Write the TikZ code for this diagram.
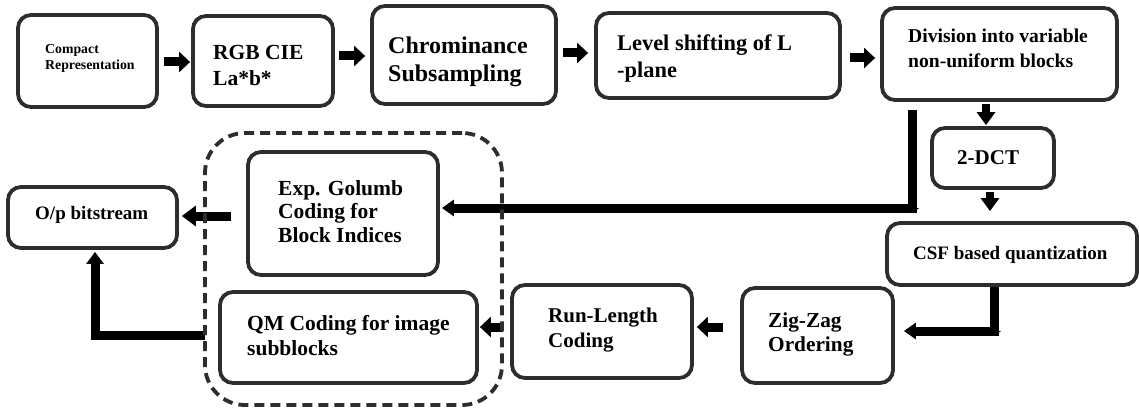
\documentclass[tikz,border=0pt]{standalone}
\usepackage{fontspec}
\setmainfont{Liberation Serif}
\usetikzlibrary{arrows.meta}
\definecolor{boxc}{RGB}{45,45,45}
\begin{document}
\begin{tikzpicture}[x=1pt,y=-1pt,
 box/.style={draw=boxc,line width=3.8pt,rounded corners=13pt,inner sep=0pt,fill=white},
 lab/.style={anchor=west,align=left,inner sep=0pt},
 fat/.style={line width=9pt,-{Triangle[width=20pt,length=11pt]}},
 dfat/.style={line width=8pt,-{Triangle[width=18pt,length=13pt]}},
 conn/.style={line width=9pt,-{Triangle[width=16pt,length=12pt]}},
 notch/.style={line width=9pt,-{Triangle[width=14pt,length=5pt]}},
 grp/.style={draw=boxc,line width=3.8pt,dash pattern=on 10pt off 6pt,rounded corners=40pt,inner sep=0pt}]
\useasboundingbox (0,0) rectangle (1139,409);
\fill[white] (0,0) rectangle (1139,409);

% boxes
\node[box,minimum width=139pt,minimum height=92pt] (b1) at (87.5,61) {};
\node[box,minimum width=140pt,minimum height=90pt] (b2) at (263,61) {};
\node[box,minimum width=184pt,minimum height=98pt] (b3) at (464,55) {};
\node[box,minimum width=244pt,minimum height=85pt] (b4) at (718,55.5) {};
\node[box,minimum width=235pt,minimum height=92pt] (b5) at (999.5,54) {};
\node[box,minimum width=122pt,minimum height=60pt] (b6) at (993,158) {};
\node[box,minimum width=250pt,minimum height=62pt] (b7) at (1012,254) {};
\node[box,minimum width=151pt,minimum height=95pt] (b8) at (817.5,335.5) {};
\node[box,minimum width=180pt,minimum height=93pt] (b9) at (602,331.5) {};
\node[box,minimum width=257pt,minimum height=91pt] (b10) at (348.5,337.5) {};
\node[box,minimum width=190pt,minimum height=123pt] (b11) at (343,213.5) {};
\node[box,minimum width=169pt,minimum height=61pt] (b12) at (92.5,217.5) {};

% labels
\node[lab,font=\bfseries\fontsize{13.8}{16}\selectfont] (t1) at (45,58) {Compact\\Representation};
\node[lab,font=\bfseries\fontsize{21.5}{26}\selectfont] (t2) at (213,65) {RGB CIE\\La*b*};
\node[lab,font=\bfseries\fontsize{24}{28}\selectfont] (t3) at (388,62) {Chrominance\\Subsampling};
\node[lab,font=\bfseries\fontsize{22.4}{27}\selectfont] (t4) at (617,58.5) {Level shifting of L\\-plane};
\node[lab,font=\bfseries\fontsize{19.6}{25}\selectfont] (t5) at (908,48.5) {Division into variable\\non-uniform blocks};
\node[lab,font=\bfseries\fontsize{21}{25}\selectfont] (t6) at (957,158) {2-DCT};
\node[lab,font=\bfseries\fontsize{19}{23}\selectfont] (t7) at (913,255) {CSF based quantization};
\node[lab,font=\bfseries\fontsize{21.3}{24}\selectfont] (t8) at (768,334) {Zig-Zag\\Ordering};
\node[lab,font=\bfseries\fontsize{21}{25}\selectfont] (t9) at (548,330.5) {Run-Length\\Coding};
\node[lab,font=\bfseries\fontsize{21.5}{25}\selectfont] (t10) at (247,335.5) {QM Coding for image\\subblocks};
\node[lab,font=\bfseries\fontsize{21.5}{23.5}\selectfont] (t11) at (278,211.5) {Exp. Golumb\\Coding for\\Block Indices};
\node[lab,font=\bfseries\fontsize{19}{23}\selectfont] (t12) at (35,215) {O/p bitstream};

% arrows top row
\draw[fat,shorten <=5pt,shorten >=1pt] (b1.east |- 0,62) -- (b2.west |- 0,62);
\draw[fat,shorten <=4pt,shorten >=5pt] (b2.east |- 0,56) -- (b3.west |- 0,56);
\draw[fat,shorten <=5pt,shorten >=6pt] (b3.east |- 0,53) -- (b4.west |- 0,53);
\draw[fat,shorten <=8pt,shorten >=5pt] (b4.east |- 0,58) -- (b5.west |- 0,58);
% vertical arrows
\draw[dfat,shorten <=2pt,shorten >=1pt] (b5.south -| 986,0) -- (b6.north -| 986,0);
\draw[dfat,shorten <=2pt,shorten >=10pt] (b6.south -| 990,0) -- (b7.north -| 990,0);
% division -> exp golumb
\coordinate (k1) at (912,208);
\draw[notch,shorten <=8pt] (b5.south -| k1) -- ([yshift=-5pt]k1);
\draw[conn,shorten >=2pt] ([xshift=5pt]k1) -- (b11.east |- k1);
% csf -> zigzag
\coordinate (k2) at (994,331);
\draw[notch] (b7.south -| k2) -- ([yshift=-5pt]k2);
\draw[conn,shorten >=9pt] ([xshift=5pt]k2) -- (b8.east |- k2);
% bottom row
\draw[fat,shorten <=17pt,shorten >=3pt] (b8.west |- 0,327) -- (b9.east |- 0,327);
\draw[fat,shorten <=7pt,shorten >=1pt] (b9.west |- 0,327) -- (b10.east |- 0,327);
% to output
\draw[line width=9pt,-{Triangle[width=20pt,length=14pt]},shorten <=15pt,shorten >=3pt] (b11.west |- 0,216) -- (b12.east |- 0,216);
\coordinate (k3) at (95,335);
\draw[line width=9pt,-{Triangle[width=17pt,length=12pt]},shorten <=13pt,shorten >=2pt] (b10.west |- k3) -| (b12.south -| k3);

% group
\node[grp,minimum width=297pt,minimum height=272pt] (g) at (353.5,269) {};
\end{tikzpicture}
\end{document}
